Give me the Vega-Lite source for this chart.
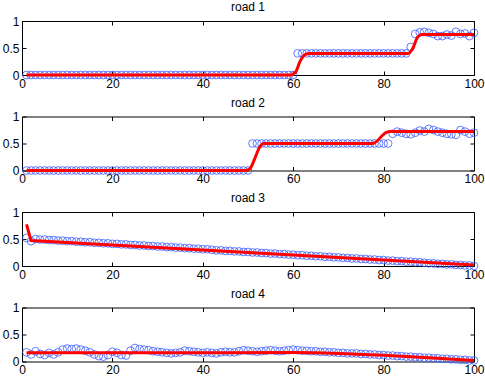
{
"$schema": "https://vega.github.io/schema/vega-lite/v6.json",
"padding": {"left": 2, "top": 1, "right": 0, "bottom": 0},
"spacing": 41.5,
"bounds": "flush",
"config": {
  "view": {"stroke": null},
  "font": "Liberation Sans",
  "axis": {"domainColor": "#000000", "tickColor": "#000000", "labelColor": "#000000", "labelFont": "Liberation Sans", "labelFontSize": 12, "grid": false, "tickSize": -4, "labelPadding": 7, "domainWidth": 1, "tickWidth": 1, "labelFlush": false},
  "title": {"font": "Liberation Sans", "fontSize": 12, "fontWeight": "normal", "color": "#000000", "offset": 1}
},
"datasets": {
"pts": [
{"road":"road 1","x":1,"y":0},{"road":"road 1","x":2,"y":0},{"road":"road 1","x":3,"y":0},{"road":"road 1","x":4,"y":0},{"road":"road 1","x":5,"y":0},{"road":"road 1","x":6,"y":0},{"road":"road 1","x":7,"y":0},{"road":"road 1","x":8,"y":0},{"road":"road 1","x":9,"y":0},{"road":"road 1","x":10,"y":0},
{"road":"road 1","x":11,"y":0},{"road":"road 1","x":12,"y":0},{"road":"road 1","x":13,"y":0},{"road":"road 1","x":14,"y":0},{"road":"road 1","x":15,"y":0},{"road":"road 1","x":16,"y":0},{"road":"road 1","x":17,"y":0},{"road":"road 1","x":18,"y":0},{"road":"road 1","x":19,"y":0},{"road":"road 1","x":20,"y":0},
{"road":"road 1","x":21,"y":0},{"road":"road 1","x":22,"y":0},{"road":"road 1","x":23,"y":0},{"road":"road 1","x":24,"y":0},{"road":"road 1","x":25,"y":0},{"road":"road 1","x":26,"y":0},{"road":"road 1","x":27,"y":0},{"road":"road 1","x":28,"y":0},{"road":"road 1","x":29,"y":0},{"road":"road 1","x":30,"y":0},
{"road":"road 1","x":31,"y":0},{"road":"road 1","x":32,"y":0},{"road":"road 1","x":33,"y":0},{"road":"road 1","x":34,"y":0},{"road":"road 1","x":35,"y":0},{"road":"road 1","x":36,"y":0},{"road":"road 1","x":37,"y":0},{"road":"road 1","x":38,"y":0},{"road":"road 1","x":39,"y":0},{"road":"road 1","x":40,"y":0},
{"road":"road 1","x":41,"y":0},{"road":"road 1","x":42,"y":0},{"road":"road 1","x":43,"y":0},{"road":"road 1","x":44,"y":0},{"road":"road 1","x":45,"y":0},{"road":"road 1","x":46,"y":0},{"road":"road 1","x":47,"y":0},{"road":"road 1","x":48,"y":0},{"road":"road 1","x":49,"y":0},{"road":"road 1","x":50,"y":0},
{"road":"road 1","x":51,"y":0},{"road":"road 1","x":52,"y":0},{"road":"road 1","x":53,"y":0},{"road":"road 1","x":54,"y":0},{"road":"road 1","x":55,"y":0},{"road":"road 1","x":56,"y":0},{"road":"road 1","x":57,"y":0},{"road":"road 1","x":58,"y":0},{"road":"road 1","x":59,"y":0},{"road":"road 1","x":60,"y":0},
{"road":"road 1","x":61,"y":0.4},{"road":"road 1","x":62,"y":0.4},{"road":"road 1","x":63,"y":0.4},{"road":"road 1","x":64,"y":0.4},{"road":"road 1","x":65,"y":0.4},{"road":"road 1","x":66,"y":0.4},{"road":"road 1","x":67,"y":0.4},{"road":"road 1","x":68,"y":0.4},{"road":"road 1","x":69,"y":0.4},{"road":"road 1","x":70,"y":0.4},
{"road":"road 1","x":71,"y":0.4},{"road":"road 1","x":72,"y":0.4},{"road":"road 1","x":73,"y":0.4},{"road":"road 1","x":74,"y":0.4},{"road":"road 1","x":75,"y":0.4},{"road":"road 1","x":76,"y":0.4},{"road":"road 1","x":77,"y":0.4},{"road":"road 1","x":78,"y":0.4},{"road":"road 1","x":79,"y":0.4},{"road":"road 1","x":80,"y":0.4},
{"road":"road 1","x":81,"y":0.4},{"road":"road 1","x":82,"y":0.4},{"road":"road 1","x":83,"y":0.4},{"road":"road 1","x":84,"y":0.4},{"road":"road 1","x":85,"y":0.4},{"road":"road 1","x":86,"y":0.52},{"road":"road 1","x":87,"y":0.76},{"road":"road 1","x":88,"y":0.79},{"road":"road 1","x":89,"y":0.8},{"road":"road 1","x":90,"y":0.78},
{"road":"road 1","x":91,"y":0.76},{"road":"road 1","x":92,"y":0.72},{"road":"road 1","x":93,"y":0.72},{"road":"road 1","x":94,"y":0.75},{"road":"road 1","x":95,"y":0.73},{"road":"road 1","x":96,"y":0.8},{"road":"road 1","x":97,"y":0.76},{"road":"road 1","x":98,"y":0.77},{"road":"road 1","x":99,"y":0.72},{"road":"road 1","x":100,"y":0.78},
{"road":"road 2","x":1,"y":0},{"road":"road 2","x":2,"y":0},{"road":"road 2","x":3,"y":0},{"road":"road 2","x":4,"y":0},{"road":"road 2","x":5,"y":0},{"road":"road 2","x":6,"y":0},{"road":"road 2","x":7,"y":0},{"road":"road 2","x":8,"y":0},{"road":"road 2","x":9,"y":0},{"road":"road 2","x":10,"y":0},
{"road":"road 2","x":11,"y":0},{"road":"road 2","x":12,"y":0},{"road":"road 2","x":13,"y":0},{"road":"road 2","x":14,"y":0},{"road":"road 2","x":15,"y":0},{"road":"road 2","x":16,"y":0},{"road":"road 2","x":17,"y":0},{"road":"road 2","x":18,"y":0},{"road":"road 2","x":19,"y":0},{"road":"road 2","x":20,"y":0},
{"road":"road 2","x":21,"y":0},{"road":"road 2","x":22,"y":0},{"road":"road 2","x":23,"y":0},{"road":"road 2","x":24,"y":0},{"road":"road 2","x":25,"y":0},{"road":"road 2","x":26,"y":0},{"road":"road 2","x":27,"y":0},{"road":"road 2","x":28,"y":0},{"road":"road 2","x":29,"y":0},{"road":"road 2","x":30,"y":0},
{"road":"road 2","x":31,"y":0},{"road":"road 2","x":32,"y":0},{"road":"road 2","x":33,"y":0},{"road":"road 2","x":34,"y":0},{"road":"road 2","x":35,"y":0},{"road":"road 2","x":36,"y":0},{"road":"road 2","x":37,"y":0},{"road":"road 2","x":38,"y":0},{"road":"road 2","x":39,"y":0},{"road":"road 2","x":40,"y":0},
{"road":"road 2","x":41,"y":0},{"road":"road 2","x":42,"y":0},{"road":"road 2","x":43,"y":0},{"road":"road 2","x":44,"y":0},{"road":"road 2","x":45,"y":0},{"road":"road 2","x":46,"y":0},{"road":"road 2","x":47,"y":0},{"road":"road 2","x":48,"y":0},{"road":"road 2","x":49,"y":0},{"road":"road 2","x":50,"y":0},
{"road":"road 2","x":51,"y":0.5},{"road":"road 2","x":52,"y":0.5},{"road":"road 2","x":53,"y":0.5},{"road":"road 2","x":54,"y":0.5},{"road":"road 2","x":55,"y":0.5},{"road":"road 2","x":56,"y":0.5},{"road":"road 2","x":57,"y":0.5},{"road":"road 2","x":58,"y":0.5},{"road":"road 2","x":59,"y":0.5},{"road":"road 2","x":60,"y":0.5},
{"road":"road 2","x":61,"y":0.5},{"road":"road 2","x":62,"y":0.5},{"road":"road 2","x":63,"y":0.5},{"road":"road 2","x":64,"y":0.5},{"road":"road 2","x":65,"y":0.5},{"road":"road 2","x":66,"y":0.5},{"road":"road 2","x":67,"y":0.5},{"road":"road 2","x":68,"y":0.5},{"road":"road 2","x":69,"y":0.5},{"road":"road 2","x":70,"y":0.5},
{"road":"road 2","x":71,"y":0.5},{"road":"road 2","x":72,"y":0.5},{"road":"road 2","x":73,"y":0.5},{"road":"road 2","x":74,"y":0.5},{"road":"road 2","x":75,"y":0.5},{"road":"road 2","x":76,"y":0.5},{"road":"road 2","x":77,"y":0.5},{"road":"road 2","x":78,"y":0.5},{"road":"road 2","x":79,"y":0.5},{"road":"road 2","x":80,"y":0.5},
{"road":"road 2","x":81,"y":0.5},{"road":"road 2","x":82,"y":0.68},{"road":"road 2","x":83,"y":0.72},{"road":"road 2","x":84,"y":0.7},{"road":"road 2","x":85,"y":0.68},{"road":"road 2","x":86,"y":0.67},{"road":"road 2","x":87,"y":0.7},{"road":"road 2","x":88,"y":0.74},{"road":"road 2","x":89,"y":0.72},{"road":"road 2","x":90,"y":0.77},
{"road":"road 2","x":91,"y":0.75},{"road":"road 2","x":92,"y":0.72},{"road":"road 2","x":93,"y":0.7},{"road":"road 2","x":94,"y":0.68},{"road":"road 2","x":95,"y":0.67},{"road":"road 2","x":96,"y":0.66},{"road":"road 2","x":97,"y":0.75},{"road":"road 2","x":98,"y":0.72},{"road":"road 2","x":99,"y":0.68},{"road":"road 2","x":100,"y":0.7},
{"road":"road 3","x":1,"y":0.52},{"road":"road 3","x":2,"y":0.46},{"road":"road 3","x":3,"y":0.5},{"road":"road 3","x":4,"y":0.49},{"road":"road 3","x":5,"y":0.49},{"road":"road 3","x":6,"y":0.48},{"road":"road 3","x":7,"y":0.48},{"road":"road 3","x":8,"y":0.47},{"road":"road 3","x":9,"y":0.47},{"road":"road 3","x":10,"y":0.46},
{"road":"road 3","x":11,"y":0.46},{"road":"road 3","x":12,"y":0.45},{"road":"road 3","x":13,"y":0.45},{"road":"road 3","x":14,"y":0.44},{"road":"road 3","x":15,"y":0.44},{"road":"road 3","x":16,"y":0.43},{"road":"road 3","x":17,"y":0.43},{"road":"road 3","x":18,"y":0.42},{"road":"road 3","x":19,"y":0.42},{"road":"road 3","x":20,"y":0.41},
{"road":"road 3","x":21,"y":0.41},{"road":"road 3","x":22,"y":0.4},{"road":"road 3","x":23,"y":0.4},{"road":"road 3","x":24,"y":0.39},{"road":"road 3","x":25,"y":0.39},{"road":"road 3","x":26,"y":0.38},{"road":"road 3","x":27,"y":0.38},{"road":"road 3","x":28,"y":0.37},{"road":"road 3","x":29,"y":0.37},{"road":"road 3","x":30,"y":0.36},
{"road":"road 3","x":31,"y":0.36},{"road":"road 3","x":32,"y":0.35},{"road":"road 3","x":33,"y":0.35},{"road":"road 3","x":34,"y":0.34},{"road":"road 3","x":35,"y":0.34},{"road":"road 3","x":36,"y":0.33},{"road":"road 3","x":37,"y":0.33},{"road":"road 3","x":38,"y":0.32},{"road":"road 3","x":39,"y":0.32},{"road":"road 3","x":40,"y":0.31},
{"road":"road 3","x":41,"y":0.31},{"road":"road 3","x":42,"y":0.3},{"road":"road 3","x":43,"y":0.29},{"road":"road 3","x":44,"y":0.29},{"road":"road 3","x":45,"y":0.28},{"road":"road 3","x":46,"y":0.28},{"road":"road 3","x":47,"y":0.27},{"road":"road 3","x":48,"y":0.27},{"road":"road 3","x":49,"y":0.26},{"road":"road 3","x":50,"y":0.26},
{"road":"road 3","x":51,"y":0.25},{"road":"road 3","x":52,"y":0.25},{"road":"road 3","x":53,"y":0.24},{"road":"road 3","x":54,"y":0.24},{"road":"road 3","x":55,"y":0.23},{"road":"road 3","x":56,"y":0.23},{"road":"road 3","x":57,"y":0.22},{"road":"road 3","x":58,"y":0.22},{"road":"road 3","x":59,"y":0.21},{"road":"road 3","x":60,"y":0.21},
{"road":"road 3","x":61,"y":0.2},{"road":"road 3","x":62,"y":0.2},{"road":"road 3","x":63,"y":0.19},{"road":"road 3","x":64,"y":0.19},{"road":"road 3","x":65,"y":0.18},{"road":"road 3","x":66,"y":0.18},{"road":"road 3","x":67,"y":0.17},{"road":"road 3","x":68,"y":0.17},{"road":"road 3","x":69,"y":0.16},{"road":"road 3","x":70,"y":0.16},
{"road":"road 3","x":71,"y":0.15},{"road":"road 3","x":72,"y":0.15},{"road":"road 3","x":73,"y":0.14},{"road":"road 3","x":74,"y":0.14},{"road":"road 3","x":75,"y":0.13},{"road":"road 3","x":76,"y":0.13},{"road":"road 3","x":77,"y":0.12},{"road":"road 3","x":78,"y":0.12},{"road":"road 3","x":79,"y":0.11},{"road":"road 3","x":80,"y":0.11},
{"road":"road 3","x":81,"y":0.1},{"road":"road 3","x":82,"y":0.1},{"road":"road 3","x":83,"y":0.09},{"road":"road 3","x":84,"y":0.09},{"road":"road 3","x":85,"y":0.08},{"road":"road 3","x":86,"y":0.08},{"road":"road 3","x":87,"y":0.07},{"road":"road 3","x":88,"y":0.07},{"road":"road 3","x":89,"y":0.06},{"road":"road 3","x":90,"y":0.05},
{"road":"road 3","x":91,"y":0.05},{"road":"road 3","x":92,"y":0.04},{"road":"road 3","x":93,"y":0.04},{"road":"road 3","x":94,"y":0.03},{"road":"road 3","x":95,"y":0.03},{"road":"road 3","x":96,"y":0.02},{"road":"road 3","x":97,"y":0.02},{"road":"road 3","x":98,"y":0.01},{"road":"road 3","x":99,"y":0.01},{"road":"road 3","x":100,"y":0},
{"road":"road 4","x":1,"y":0.17},{"road":"road 4","x":2,"y":0.13},{"road":"road 4","x":3,"y":0.19},{"road":"road 4","x":4,"y":0.14},{"road":"road 4","x":5,"y":0.12},{"road":"road 4","x":6,"y":0.16},{"road":"road 4","x":7,"y":0.13},{"road":"road 4","x":8,"y":0.17},{"road":"road 4","x":9,"y":0.22},{"road":"road 4","x":10,"y":0.24},
{"road":"road 4","x":11,"y":0.23},{"road":"road 4","x":12,"y":0.24},{"road":"road 4","x":13,"y":0.22},{"road":"road 4","x":14,"y":0.2},{"road":"road 4","x":15,"y":0.17},{"road":"road 4","x":16,"y":0.13},{"road":"road 4","x":17,"y":0.1},{"road":"road 4","x":18,"y":0.09},{"road":"road 4","x":19,"y":0.12},{"road":"road 4","x":20,"y":0.18},
{"road":"road 4","x":21,"y":0.16},{"road":"road 4","x":22,"y":0.12},{"road":"road 4","x":23,"y":0.11},{"road":"road 4","x":24,"y":0.2},{"road":"road 4","x":25,"y":0.25},{"road":"road 4","x":26,"y":0.23},{"road":"road 4","x":27,"y":0.22},{"road":"road 4","x":28,"y":0.21},{"road":"road 4","x":29,"y":0.19},{"road":"road 4","x":30,"y":0.18},
{"road":"road 4","x":31,"y":0.17},{"road":"road 4","x":32,"y":0.16},{"road":"road 4","x":33,"y":0.15},{"road":"road 4","x":34,"y":0.16},{"road":"road 4","x":35,"y":0.17},{"road":"road 4","x":36,"y":0.2},{"road":"road 4","x":37,"y":0.19},{"road":"road 4","x":38,"y":0.18},{"road":"road 4","x":39,"y":0.17},{"road":"road 4","x":40,"y":0.16},
{"road":"road 4","x":41,"y":0.17},{"road":"road 4","x":42,"y":0.16},{"road":"road 4","x":43,"y":0.15},{"road":"road 4","x":44,"y":0.17},{"road":"road 4","x":45,"y":0.18},{"road":"road 4","x":46,"y":0.17},{"road":"road 4","x":47,"y":0.17},{"road":"road 4","x":48,"y":0.19},{"road":"road 4","x":49,"y":0.21},{"road":"road 4","x":50,"y":0.2},
{"road":"road 4","x":51,"y":0.19},{"road":"road 4","x":52,"y":0.18},{"road":"road 4","x":53,"y":0.19},{"road":"road 4","x":54,"y":0.2},{"road":"road 4","x":55,"y":0.21},{"road":"road 4","x":56,"y":0.2},{"road":"road 4","x":57,"y":0.19},{"road":"road 4","x":58,"y":0.2},{"road":"road 4","x":59,"y":0.21},{"road":"road 4","x":60,"y":0.22},
{"road":"road 4","x":61,"y":0.21},{"road":"road 4","x":62,"y":0.2},{"road":"road 4","x":63,"y":0.2},{"road":"road 4","x":64,"y":0.19},{"road":"road 4","x":65,"y":0.19},{"road":"road 4","x":66,"y":0.18},{"road":"road 4","x":67,"y":0.18},{"road":"road 4","x":68,"y":0.17},{"road":"road 4","x":69,"y":0.17},{"road":"road 4","x":70,"y":0.16},
{"road":"road 4","x":71,"y":0.16},{"road":"road 4","x":72,"y":0.15},{"road":"road 4","x":73,"y":0.15},{"road":"road 4","x":74,"y":0.15},{"road":"road 4","x":75,"y":0.14},{"road":"road 4","x":76,"y":0.14},{"road":"road 4","x":77,"y":0.13},{"road":"road 4","x":78,"y":0.13},{"road":"road 4","x":79,"y":0.12},{"road":"road 4","x":80,"y":0.12},
{"road":"road 4","x":81,"y":0.11},{"road":"road 4","x":82,"y":0.11},{"road":"road 4","x":83,"y":0.1},{"road":"road 4","x":84,"y":0.1},{"road":"road 4","x":85,"y":0.09},{"road":"road 4","x":86,"y":0.09},{"road":"road 4","x":87,"y":0.08},{"road":"road 4","x":88,"y":0.08},{"road":"road 4","x":89,"y":0.07},{"road":"road 4","x":90,"y":0.07},
{"road":"road 4","x":91,"y":0.06},{"road":"road 4","x":92,"y":0.06},{"road":"road 4","x":93,"y":0.05},{"road":"road 4","x":94,"y":0.05},{"road":"road 4","x":95,"y":0.04},{"road":"road 4","x":96,"y":0.04},{"road":"road 4","x":97,"y":0.03},{"road":"road 4","x":98,"y":0.03},{"road":"road 4","x":99,"y":0.02},{"road":"road 4","x":100,"y":0.02}
],
"fit": [
{"road":"road 1","x":1,"y":0},{"road":"road 1","x":59.5,"y":0},{"road":"road 1","x":60.5,"y":0.05},{"road":"road 1","x":61.5,"y":0.25},{"road":"road 1","x":62.5,"y":0.37},{"road":"road 1","x":63.5,"y":0.4},{"road":"road 1","x":85.5,"y":0.4},{"road":"road 1","x":86.5,"y":0.5},{"road":"road 1","x":87.5,"y":0.7},{"road":"road 1","x":88.5,"y":0.75},{"road":"road 1","x":100,"y":0.75},
{"road":"road 2","x":1,"y":0},{"road":"road 2","x":49.5,"y":0},{"road":"road 2","x":50.5,"y":0.04},{"road":"road 2","x":51.5,"y":0.22},{"road":"road 2","x":52.5,"y":0.42},{"road":"road 2","x":53.5,"y":0.5},{"road":"road 2","x":77.5,"y":0.5},{"road":"road 2","x":78.5,"y":0.54},{"road":"road 2","x":79.5,"y":0.63},{"road":"road 2","x":80.5,"y":0.7},{"road":"road 2","x":81.5,"y":0.72},{"road":"road 2","x":100,"y":0.72},
{"road":"road 3","x":1,"y":0.77},{"road":"road 3","x":2,"y":0.47},{"road":"road 3","x":100,"y":0.02},
{"road":"road 4","x":1,"y":0.16},{"road":"road 4","x":30,"y":0.16},{"road":"road 4","x":60,"y":0.165},{"road":"road 4","x":70,"y":0.15},{"road":"road 4","x":80,"y":0.115},{"road":"road 4","x":90,"y":0.07},{"road":"road 4","x":100,"y":0.02}
]
},
"vconcat": [
{"width": 452, "height": 54, "title": "road 1",
 "layer": [
  {"data": {"name": "pts"}, "transform": [{"filter": {"field": "road", "equal": "road 1"}}],
   "mark": {"type": "point", "shape": "circle", "filled": false, "color": "#3a5cff", "strokeWidth": 0.8, "size": 60, "opacity": 1},
   "encoding": {"x": {"field": "x", "type": "quantitative", "scale": {"domain": [0, 100], "nice": false, "zero": false}, "axis": {"title": null, "values": [0,20,40,60,80,100], "orient": "bottom"}},
                "y": {"field": "y", "type": "quantitative", "scale": {"domain": [0, 1], "nice": false}, "axis": {"title": null, "values": [0,0.5,1], "format": "~g", "orient": "left"}}}},
  {"data": {"name": "fit"}, "transform": [{"filter": {"field": "road", "equal": "road 1"}}],
   "mark": {"type": "line", "color": "#ff0000", "strokeWidth": 3, "interpolate": "monotone"},
   "encoding": {"x": {"field": "x", "type": "quantitative", "scale": {"domain": [0, 100], "nice": false, "zero": false}, "axis": {"title": null, "values": [0,20,40,60,80,100], "orient": "top", "labels": false}},
                "y": {"field": "y", "type": "quantitative", "scale": {"domain": [0, 1], "nice": false}, "axis": {"title": null, "values": [0,0.5,1], "orient": "right", "labels": false}}}}
 ],
 "resolve": {"axis": {"x": "independent", "y": "independent"}}},
{"width": 452, "height": 54, "title": "road 2",
 "layer": [
  {"data": {"name": "pts"}, "transform": [{"filter": {"field": "road", "equal": "road 2"}}],
   "mark": {"type": "point", "shape": "circle", "filled": false, "color": "#3a5cff", "strokeWidth": 0.8, "size": 60, "opacity": 1},
   "encoding": {"x": {"field": "x", "type": "quantitative", "scale": {"domain": [0, 100], "nice": false, "zero": false}, "axis": {"title": null, "values": [0,20,40,60,80,100], "orient": "bottom"}},
                "y": {"field": "y", "type": "quantitative", "scale": {"domain": [0, 1], "nice": false}, "axis": {"title": null, "values": [0,0.5,1], "format": "~g", "orient": "left"}}}},
  {"data": {"name": "fit"}, "transform": [{"filter": {"field": "road", "equal": "road 2"}}],
   "mark": {"type": "line", "color": "#ff0000", "strokeWidth": 3, "interpolate": "monotone"},
   "encoding": {"x": {"field": "x", "type": "quantitative", "scale": {"domain": [0, 100], "nice": false, "zero": false}, "axis": {"title": null, "values": [0,20,40,60,80,100], "orient": "top", "labels": false}},
                "y": {"field": "y", "type": "quantitative", "scale": {"domain": [0, 1], "nice": false}, "axis": {"title": null, "values": [0,0.5,1], "orient": "right", "labels": false}}}}
 ],
 "resolve": {"axis": {"x": "independent", "y": "independent"}}},
{"width": 452, "height": 54, "title": "road 3",
 "layer": [
  {"data": {"name": "pts"}, "transform": [{"filter": {"field": "road", "equal": "road 3"}}],
   "mark": {"type": "point", "shape": "circle", "filled": false, "color": "#3a5cff", "strokeWidth": 0.8, "size": 60, "opacity": 1},
   "encoding": {"x": {"field": "x", "type": "quantitative", "scale": {"domain": [0, 100], "nice": false, "zero": false}, "axis": {"title": null, "values": [0,20,40,60,80,100], "orient": "bottom"}},
                "y": {"field": "y", "type": "quantitative", "scale": {"domain": [0, 1], "nice": false}, "axis": {"title": null, "values": [0,0.5,1], "format": "~g", "orient": "left"}}}},
  {"data": {"name": "fit"}, "transform": [{"filter": {"field": "road", "equal": "road 3"}}],
   "mark": {"type": "line", "color": "#ff0000", "strokeWidth": 3},
   "encoding": {"x": {"field": "x", "type": "quantitative", "scale": {"domain": [0, 100], "nice": false, "zero": false}, "axis": {"title": null, "values": [0,20,40,60,80,100], "orient": "top", "labels": false}},
                "y": {"field": "y", "type": "quantitative", "scale": {"domain": [0, 1], "nice": false}, "axis": {"title": null, "values": [0,0.5,1], "orient": "right", "labels": false}}}}
 ],
 "resolve": {"axis": {"x": "independent", "y": "independent"}}},
{"width": 452, "height": 54, "title": "road 4",
 "layer": [
  {"data": {"name": "pts"}, "transform": [{"filter": {"field": "road", "equal": "road 4"}}],
   "mark": {"type": "point", "shape": "circle", "filled": false, "color": "#3a5cff", "strokeWidth": 0.8, "size": 60, "opacity": 1},
   "encoding": {"x": {"field": "x", "type": "quantitative", "scale": {"domain": [0, 100], "nice": false, "zero": false}, "axis": {"title": null, "values": [0,20,40,60,80,100], "orient": "bottom"}},
                "y": {"field": "y", "type": "quantitative", "scale": {"domain": [0, 1], "nice": false}, "axis": {"title": null, "values": [0,0.5,1], "format": "~g", "orient": "left"}}}},
  {"data": {"name": "fit"}, "transform": [{"filter": {"field": "road", "equal": "road 4"}}],
   "mark": {"type": "line", "color": "#ff0000", "strokeWidth": 3, "interpolate": "monotone"},
   "encoding": {"x": {"field": "x", "type": "quantitative", "scale": {"domain": [0, 100], "nice": false, "zero": false}, "axis": {"title": null, "values": [0,20,40,60,80,100], "orient": "top", "labels": false}},
                "y": {"field": "y", "type": "quantitative", "scale": {"domain": [0, 1], "nice": false}, "axis": {"title": null, "values": [0,0.5,1], "orient": "right", "labels": false}}}}
 ],
 "resolve": {"axis": {"x": "independent", "y": "independent"}}}
]
}
